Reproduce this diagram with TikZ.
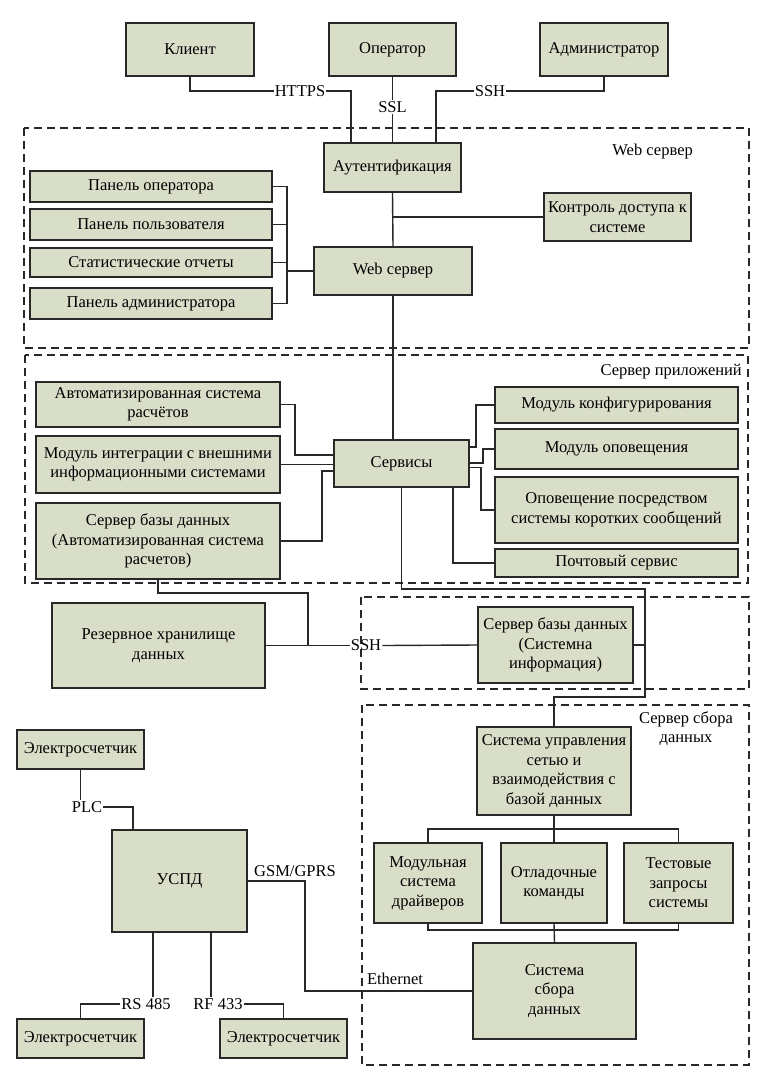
\documentclass[tikz,border=0pt]{standalone}
\usepackage{fontspec}
\setmainfont{Liberation Serif}
\usetikzlibrary{calc}
\definecolor{boxfill}{RGB}{217,222,200}
\definecolor{ink}{RGB}{40,40,40}
% \blk{name}{x1}{y1}{x2}{y2}{text}: a filled block spanning the given corners
\newcommand{\blk}[6]{\node[blk, minimum width={(#4-#2)*1pt}, minimum height={(#5-#3)*1pt}] (#1) at ({(#2+#4)/2},{(#3+#5)/2}) {#6};}
% \zone{x1}{y1}{x2}{y2}: dashed frame of a server group
\newcommand{\zone}[4]{\draw[zone] (#1,#2) rectangle (#3,#4);}

\begin{document}
\begin{tikzpicture}[x=1pt,y=-1pt,
  blk/.style={draw=ink, fill=boxfill, line width=1.6pt, inner sep=1pt, align=center,
              font=\fontsize{16.5}{19.5}\selectfont},
  zone/.style={draw=ink, line width=1.7pt, dash pattern=on 8pt off 5pt},
  wire/.style={draw=ink, line width=1.4pt},
  tag/.style={inner sep=1pt, align=center, font=\fontsize{16.5}{19}\selectfont},
]
\useasboundingbox[fill=white] (0,0) rectangle (772,1088);

% server groups
\zone{24}{128}{749}{348}
\zone{25}{355}{748}{583}
\zone{361}{597}{749}{689}
\zone{362}{705}{749}{1065}

\node[tag, anchor=east] (lweb) at (694,152) {Web сервер};
\node[tag, anchor=east] (lapp) at (743,372) {Сервер приложений};
\node[tag] (lcol) at (686,728.5) {Сервер сбора\\данных};

% users
\blk{kl}{126}{23}{254}{76}{Клиент}
\blk{op}{329}{23}{456}{76}{Оператор}
\blk{adm}{540}{23}{668}{76}{Администратор}

% web server
\blk{auth}{324}{143}{461}{192}{Аутентификация}
\blk{p1}{30}{171}{272}{202}{Панель оператора}
\blk{p2}{30}{209}{272}{240}{Панель пользователя}
\blk{p3}{30}{248}{272}{277}{Статистические отчеты}
\blk{p4}{30}{288}{272}{319}{Панель администратора}
\blk{ws}{314}{247}{472}{295}{Web сервер}
\blk{acc}{544}{193}{691}{241}{Контроль доступа к\\системе}

% application server
\blk{a1}{36}{382}{280}{427}{Автоматизированная система\\расчётов}
\blk{a2}{36}{436}{280}{493}{Модуль интеграции с внешними\\информационными системами}
\blk{a3}{36}{503}{280}{579}{Сервер базы данных\\(Автоматизированная система\\расчетов)}
\blk{srv}{334}{440}{469}{487}{Сервисы}
\blk{b1}{495}{387}{738}{423}{Модуль конфигурирования}
\blk{b2}{495}{429}{738}{469}{Модуль оповещения}
\blk{b3}{495}{477}{738}{543}{Оповещение посредством\\системы коротких сообщений}
\blk{b4}{495}{549}{738}{577}{Почтовый сервис}

% storage
\blk{res}{52}{603}{265}{688}{Резервное хранилище\\данных}
\blk{db2}{478}{607}{633}{683}{Сервер базы данных\\(Системна\\информация)}

% data collection server
\blk{sm}{477}{727}{631}{815}{Система управления\\сетью и\\взаимодействия с\\базой данных}
\blk{m1}{374}{843}{482}{923}{Модульная\\система\\драйверов}
\blk{m2}{501}{843}{607}{923}{Отладочные\\команды}
\blk{m3}{624}{843}{733}{923}{Тестовые\\запросы\\системы}
\blk{sc}{473}{943}{636}{1039}{Система\\сбора\\данных}

% meters and concentrator
\blk{e1}{17}{730}{144}{769}{Электросчетчик}
\blk{uspd}{112}{830}{247}{932}{УСПД}
\blk{e2}{17}{1019}{144}{1058}{Электросчетчик}
\blk{e3}{220}{1019}{347}{1058}{Электросчетчик}

% link labels
\node[tag] (https) at (300,91) {HTTPS};
\node[tag] (ssl) at (392.5,107) {SSL};
\node[tag] (ssh1) at (490,91) {SSH};
\node[tag] (ssh2) at (366,645.5) {SSH};
\node[tag] (plc) at (87,807) {PLC};
\node[tag] (gsm) at (295,871) {GSM/GPRS};
\node[tag] (eth) at (395,979) {Ethernet};
\node[tag] (rs) at (146,1004) {RS 485};
\node[tag] (rf) at (218,1004) {RF 433};

% helper points for bends
\coordinate (ax1) at (351,0);
\coordinate (ax2) at (436,0);
\coordinate (bk) at (287,0);
\coordinate (j1) at (645,589);
\coordinate (j2) at (645,697);
\coordinate (j3) at (308,593);
\coordinate (t1) at (554,829);
\coordinate (t2) at (554,930);
\coordinate (u1) at ([xshift=-26.5pt]uspd.south);
\coordinate (u2) at ([xshift=31.5pt]uspd.south);

% user access
\draw[wire] (kl.south) |- (https.west);
\draw[wire] (https.east) -| (ax1 |- auth.north);
\draw[wire] (op.south) -- (ssl.north);
\draw[wire] (ssl.south) -- (ssl.south |- auth.north);
\draw[wire] (adm.south) |- (ssh1.east);
\draw[wire] (ssh1.west) -| (ax2 |- auth.north);

% web server
\draw[wire] (auth.south) -- (ws.north);
\draw[wire] (acc.west) -- (acc.west -| auth.south);
\draw[wire] (p1.east) -| (bk |- p4.east) -- (p4.east);
\draw[wire] (p2.east) -- (bk |- p2.east);
\draw[wire] (p3.east) -- (bk |- p3.east);
\draw[wire] (ws.west) -- (bk |- ws.west);
\draw[wire] (ws.south) -- (ws.south |- srv.north);

% services
\draw[wire] (a1.east) -- ++(14,0) |- ([yshift=8.5pt]srv.west);
\draw[wire] (a2.east) -- (a2.east -| srv.west);
\draw[wire] (a3.east) -- ++(41,0) |- ([yshift=-7.5pt]srv.west);
\draw[wire] ([yshift=16.5pt]srv.east) -- ++(6,0) |- (b1.west);
\draw[wire] ([yshift=0.5pt]srv.east) -- ++(13,0) |- (b2.west);
\draw[wire] ([yshift=-4pt]srv.east) -- ++(11,0) |- (b3.west);
\draw[wire] ([xshift=51.5pt]srv.south) |- (b4.west);

% databases and storage
\draw[wire] (srv.south) |- (j1) -- (j2) -| (sm.north);
\draw[wire] (db2.east) -- (db2.east -| j1);
\draw[wire] (a3.south) |- (j3) -- (j3 |- res.east);
\draw[wire] (res.east) -- (ssh2.west);
\draw[wire] (ssh2.east) -- (db2.west);

% data collection tree
\draw[wire] (sm.south) -- (m2.north);
\draw[wire] (m1.north) |- (t1) -| (m3.north);
\draw[wire] (m1.south) |- (t2) -| (m3.south);
\draw[wire] (m2.south) -- (sc.north);

% meters
\draw[wire] (e1.south) -- (e1.south |- plc.north);
\draw[wire] (plc.east) -| ([xshift=-46.5pt]uspd.north);
\draw[wire] (uspd.east) -- ++(57,0) |- (sc.west);
\draw[wire] (u1) -- (u1 |- rs.north);
\draw[wire] (rs.west) -| (e2.north);
\draw[wire] (u2) -- (u2 |- rf.north);
\draw[wire] (rf.east) -| (e3.north);
\end{tikzpicture}
\end{document}
